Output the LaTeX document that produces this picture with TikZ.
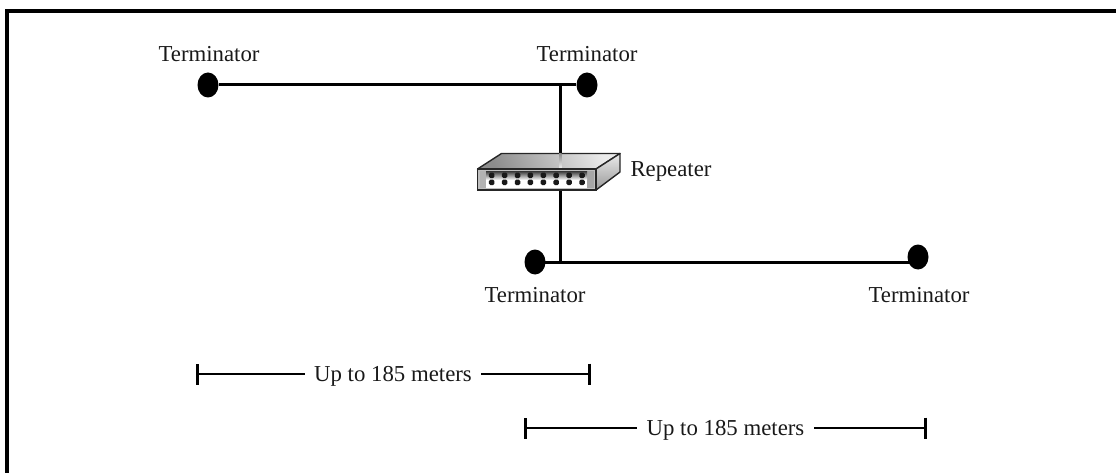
\documentclass[tikz,border=0pt]{standalone}
\usepackage{fontspec}
\setmainfont{Liberation Serif}
\usetikzlibrary{shapes.geometric,arrows.meta}
\tikzset{
  term/.style={ellipse,fill=black,draw=none,minimum width=21pt,minimum height=25pt,inner sep=0pt},
  lbl/.style={font=\fontsize{22.8}{25}\selectfont,inner sep=0pt,text=black!90},
  wire/.style={line width=3pt,black},
  frameline/.style={line width=3.2pt,black,line cap=butt},
  dim/.style={line width=2.8pt,black},
  face/.style={draw=black!85,line width=1.4pt,line join=round},
  port/.style={fill=black!90,draw=none,minimum width=5.5pt,minimum height=5.5pt,inner sep=0pt,rounded corners=1.5pt},
}
\begin{document}
\begin{tikzpicture}[x=1pt,y=-1pt]
\useasboundingbox (0,0) rectangle (1116,473);
% frame: left and top only
\coordinate (fbl) at (7,473);
\coordinate (ftl) at (7,11);
\coordinate (ftr) at (1116,11);
\draw[frameline,line join=miter] (fbl) -- (ftl) -- (ftr);
% terminators
\node[term] (t1) at (208,85) {};
\node[term] (t2) at (587,85) {};
\node[term] (t3) at (535,262) {};
\node[term] (t4) at (918,257) {};
\coordinate (j1) at (560,85);
\coordinate (j2) at (560,262);
\coordinate (t4j) at (918,262);
\draw[wire] (t1) -- (t2);
\draw[wire] (t3.center) -- (t4j);
% repeater
\coordinate (rtop) at (560,153);
\coordinate (rbot) at (560,190);
\draw[wire] (j1) -- (rtop);
\draw[wire] (rbot) -- (j2);
\shade[left color=black!45,right color=black!8,shading angle=115,draw=black!85,line width=1.4pt,line join=round]
  (477.5,169) -- (501.5,153.5) -- (620,153.5) -- (596,169) -- cycle;
\shade[top color=black!45,bottom color=black!5] (559,153.5) rectangle (561.5,169);
\shade[top color=black!8,bottom color=black!40,face]
  (596,169) -- (620,153.5) -- (620,172) -- (596,190) -- cycle;
\node[draw=black!85,line width=1.4pt,fill=black!25,minimum width=118.5pt,minimum height=21pt,inner sep=0pt] (rep) at (536.75,179.5) {};
\fill[black!15] (480,171) rectangle (594,188);
\fill[black!35] (587,171) rectangle (594,188);
\fill[black!30] (480,171) rectangle (486,188);
\fill[white] (486,171.5) rectangle (587,188);
\shade[top color=black!75,bottom color=white] (486,171.5) rectangle (587,180);
\foreach \i in {0,...,7}{
  \node[port] (pa\i) at ({491.7+12.9*\i},175.3) {};
  \node[port] (pb\i) at ({491.7+12.9*\i},182.3) {};
}
% labels
\node[lbl] (l1) at (209,54) {Terminator};
\node[lbl] (l2) at (587,54) {Terminator};
\node[lbl] (l3) at (535,295) {Terminator};
\node[lbl] (l4) at (919,295) {Terminator};
\node[lbl] (l5) at (671,171) {Repeater};
% dimensions
\coordinate (d1a) at (196,374);
\coordinate (d1b) at (591,374);
\coordinate (d2a) at (524,428);
\coordinate (d2b) at (927,428);
\node[lbl,minimum height=20pt,minimum width=176pt] (m1) at (393,374) {\raisebox{-7.5pt}[0pt][0pt]{Up to 185 meters}};
\node[lbl,minimum height=20pt,minimum width=176pt] (m2) at (725.5,428) {\raisebox{-7.5pt}[0pt][0pt]{Up to 185 meters}};
\draw[dim,{Bar[width=21pt,length=2.5pt]}-] (d1a) -- (m1);
\draw[dim,{Bar[width=21pt,length=2.5pt]}-] (d1b) -- (m1);
\draw[dim,{Bar[width=21pt,length=2.5pt]}-] (d2a) -- (m2);
\draw[dim,{Bar[width=21pt,length=2.5pt]}-] (d2b) -- (m2);
\end{tikzpicture}
\end{document}
